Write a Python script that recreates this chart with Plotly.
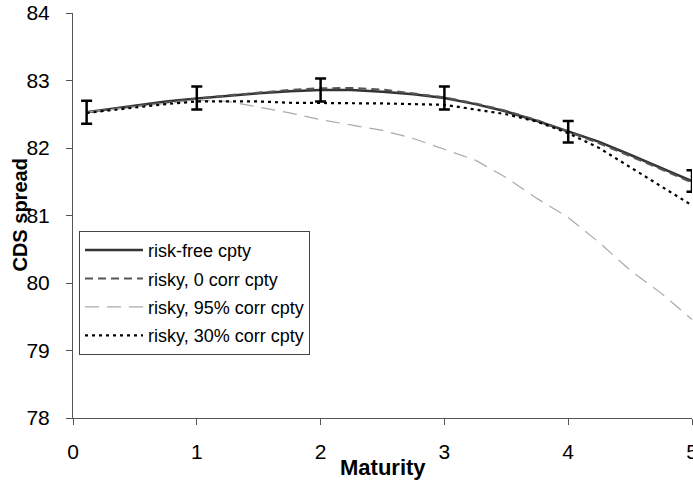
import plotly.graph_objects as go

# ---- data ----
maturity = [0.11, 0.5, 0.75, 1.0, 1.25, 1.5, 1.75, 2.0, 2.25, 2.5, 2.75,
            3.0, 3.25, 3.5, 3.75, 4.0, 4.25, 4.5, 4.75, 5.0]
risk_free = [82.53, 82.63, 82.69, 82.735, 82.775, 82.81, 82.84, 82.86, 82.86, 82.835, 82.795,
             82.74, 82.65, 82.54, 82.40, 82.25, 82.09, 81.90, 81.70, 81.51]
risky_0 = [82.53, 82.62, 82.67, 82.73, 82.78, 82.82, 82.86, 82.885, 82.89, 82.865, 82.81,
           82.75, 82.66, 82.55, 82.41, 82.24, 82.07, 81.88, 81.68, 81.49]
risky_95 = [82.53, 82.61, 82.66, 82.71, 82.69, 82.61, 82.52, 82.42, 82.34, 82.26, 82.14,
            81.98, 81.82, 81.56, 81.25, 80.97, 80.60, 80.19, 79.85, 79.46]
risky_30 = [82.52, 82.60, 82.65, 82.69, 82.69, 82.69, 82.67, 82.67, 82.665, 82.66, 82.65,
            82.64, 82.57, 82.50, 82.39, 82.22, 82.00, 81.72, 81.43, 81.15]

err_x = [0.11, 1, 2, 3, 4, 5]
err_y = [82.53, 82.74, 82.86, 82.74, 82.24, 81.51]
err_half = [0.17, 0.17, 0.17, 0.17, 0.16, 0.16]

names = ["risk-free cpty", "risky, 0 corr cpty", "risky, 95% corr cpty", "risky, 30% corr cpty"]
x_ticks = [0, 1, 2, 3, 4, 5]
y_ticks = [78, 79, 80, 81, 82, 83, 84]

FONT = "Liberation Sans, Arial, sans-serif"

fig = go.Figure()
styles = [
    dict(color="#333333", width=2.5, dash="solid"),
    dict(color="#555555", width=2, dash="8px,5px"),
    dict(color="#aaaaaa", width=1.2, dash="14px,8px"),
    dict(color="#000000", width=2.2, dash="3px,4px"),
]
for i, (nm, ys) in enumerate(zip(names, [risk_free, risky_0, risky_95, risky_30])):
    fig.add_trace(go.Scatter(x=maturity, y=ys, mode="lines", name=nm,
                             line=styles[i], legendgroup=f"g{i}"))

fig.add_trace(go.Scatter(x=err_x, y=err_y, mode="markers", showlegend=False,
                         marker=dict(size=2, color="rgba(0,0,0,0)"),
                         error_y=dict(type="data", array=err_half, visible=True,
                                      thickness=2.5, width=5.5, color="black")))

fig.update_layout(
    width=693, height=481,
    margin=dict(l=73, r=1, t=13, b=63, autoexpand=False),
    paper_bgcolor="white", plot_bgcolor="white",
    font=dict(family=FONT, size=18, color="black"),
    showlegend=True,
    legend=dict(x=0.0097, y=0.462, xanchor="left", yanchor="top",
                bordercolor="#444444", borderwidth=1, bgcolor="white",
                font=dict(family=FONT, size=18, color="black"),
                tracegroupgap=2, itemwidth=58),
    xaxis=dict(range=[0, 5], tickvals=x_ticks, ticks="outside", ticklen=6,
               tickcolor="#555555", showline=True, linecolor="#555555", linewidth=1,
               showgrid=False, zeroline=False, ticklabelstandoff=9,
               ticklabeloverflow="allow", automargin=False,
               tickfont=dict(family=FONT, size=21)),
    yaxis=dict(range=[78, 84], tickvals=y_ticks, ticks="outside", ticklen=6,
               tickcolor="#555555", showline=True, linecolor="#555555", linewidth=1,
               showgrid=False, zeroline=False, ticklabelstandoff=12, automargin=False,
               tickfont=dict(family=FONT, size=21)),
    annotations=[
        dict(text="<b>Maturity</b>", xref="paper", yref="paper", x=0.5, y=-0.121,
             xanchor="center", yanchor="middle", showarrow=False,
             font=dict(family=FONT, size=22, color="black")),
        dict(text="<b>CDS spread</b>", xref="paper", yref="paper", x=-0.0872, y=0.5,
             xanchor="center", yanchor="middle", showarrow=False, textangle=-90,
             font=dict(family=FONT, size=20, color="black")),
    ],
)

fig.write_html("out.html")
